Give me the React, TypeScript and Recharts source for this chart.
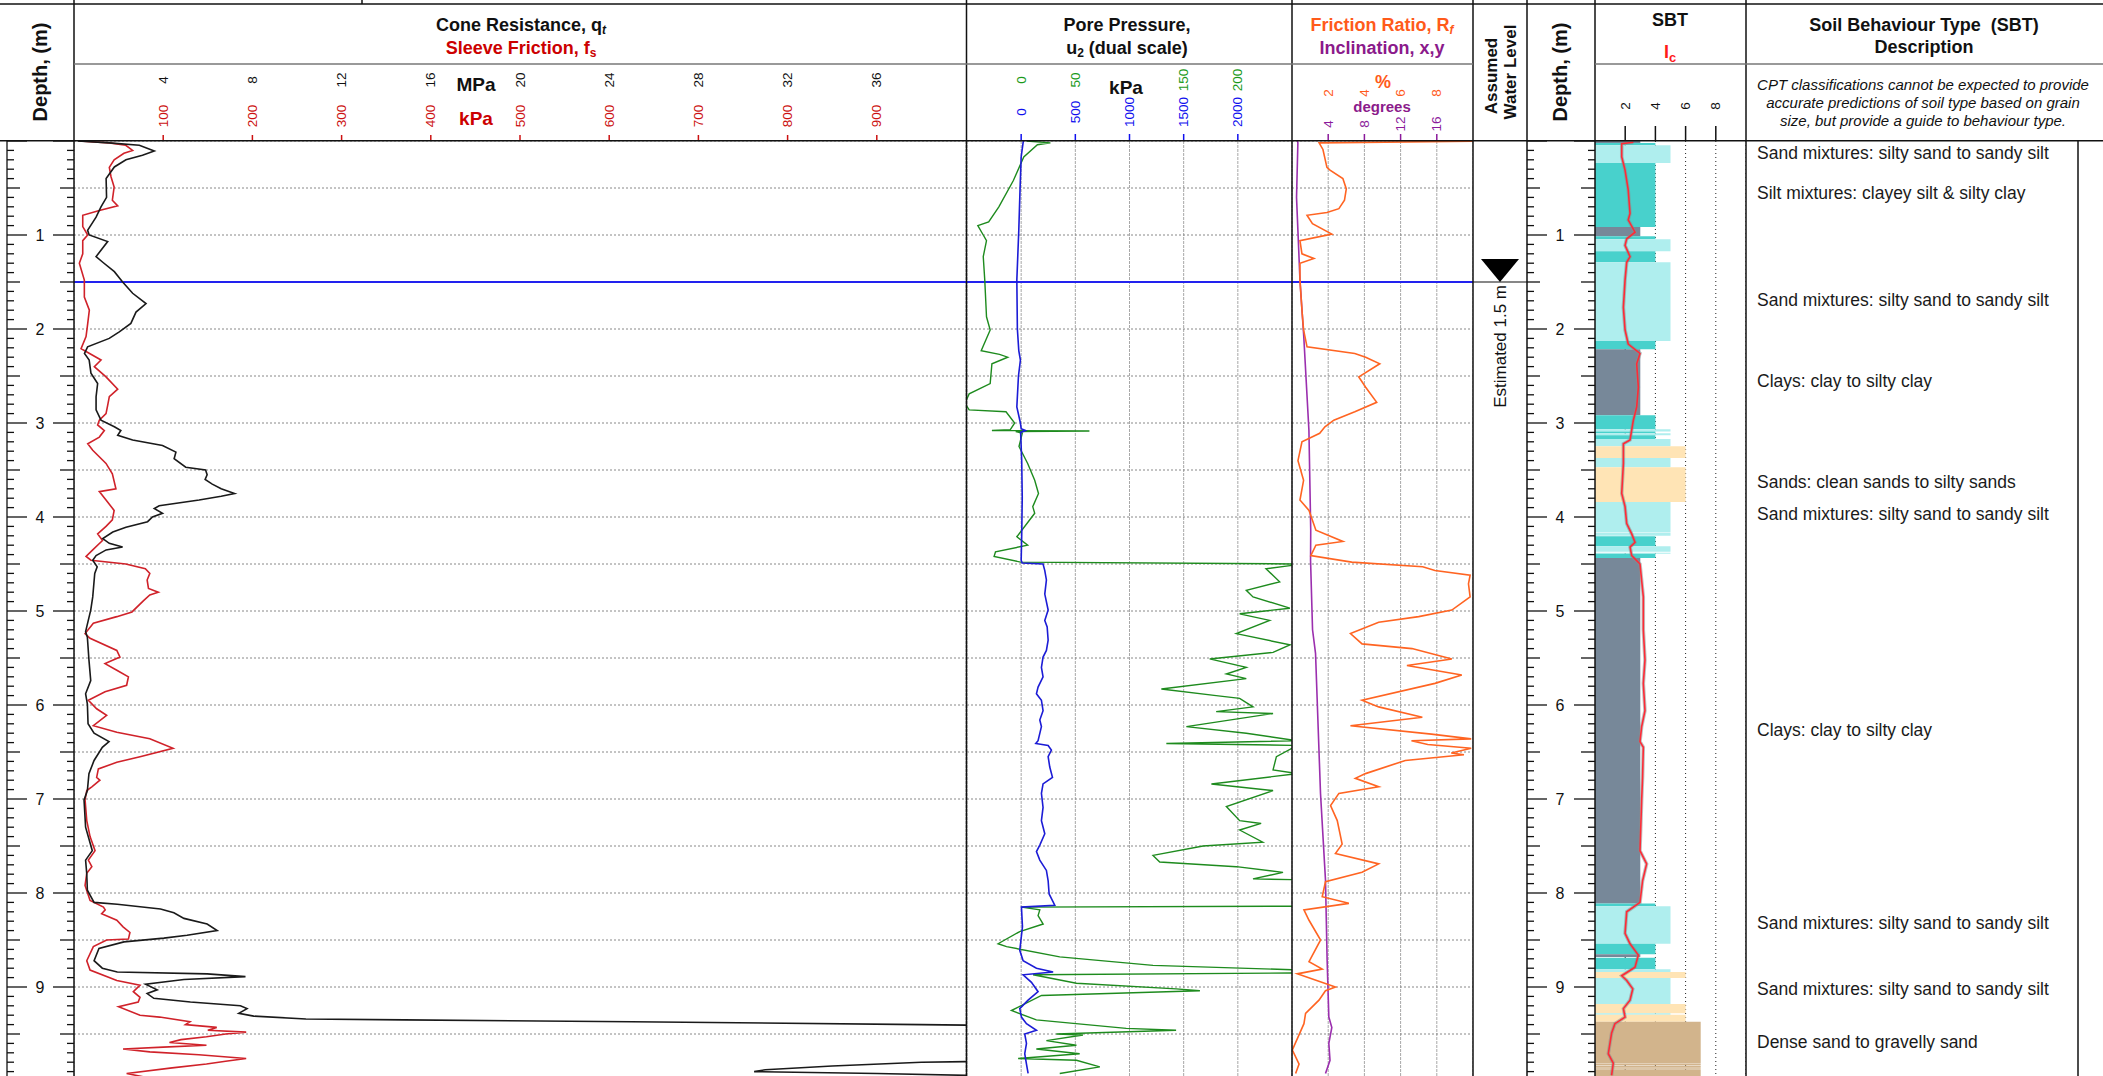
import React from "react";
import {
  ScatterChart, Scatter, XAxis, YAxis, CartesianGrid, ReferenceLine, ReferenceArea,
} from "recharts";

type Row = [number, number];

// cone resistance qt (MPa) by depth (m)
const QT_MPA: Row[] = [
  [0.0, 0.17], [0.02, 1.58], [0.046, 2.93], [0.106, 3.6], [0.152, 3.07], [0.2, 2.33], [0.276, 1.81],
  [0.4, 1.44], [0.6, 1.46], [0.7, 1.21], [0.81, 0.99], [0.95, 0.61], [1.0, 0.68], [1.07, 1.51],
  [1.23, 0.99], [1.29, 1.29], [1.39, 1.81], [1.5, 2.18], [1.62, 2.63], [1.73, 3.23], [1.82, 2.78],
  [1.94, 2.55], [2.03, 2.03], [2.1, 1.58], [2.19, 0.61], [2.26, 0.47], [2.33, 0.68], [2.47, 0.76],
  [2.58, 1.06], [2.72, 0.99], [2.86, 0.99], [2.97, 1.21], [3.04, 1.81], [3.08, 2.1], [3.13, 1.96],
  [3.18, 2.63], [3.24, 3.97], [3.31, 4.57], [3.38, 4.49], [3.47, 5.01], [3.5, 5.9], [3.55, 5.97],
  [3.6, 5.88], [3.65, 6.2], [3.7, 6.6], [3.75, 7.2], [3.78, 6.6], [3.82, 5.61], [3.88, 3.82],
  [3.91, 3.6], [3.96, 3.97], [4.0, 3.52], [4.05, 3.3], [4.11, 2.33], [4.16, 1.74], [4.23, 1.29],
  [4.28, 1.58], [4.32, 2.18], [4.35, 1.44], [4.41, 0.99], [4.46, 0.84], [4.53, 1.04], [4.6, 0.93],
  [4.85, 0.84], [4.99, 0.75], [5.22, 0.52], [5.28, 0.6], [5.52, 0.67], [5.74, 0.75], [5.88, 0.52],
  [5.99, 0.6], [6.2, 0.63], [6.3, 0.9], [6.39, 1.57], [6.45, 1.27], [6.59, 0.9], [6.73, 0.67],
  [6.91, 0.6], [7.01, 0.45], [7.3, 0.52], [7.55, 0.82], [7.65, 0.52], [7.79, 0.57], [7.97, 0.6],
  [8.1, 0.9], [8.12, 1.94], [8.17, 3.88], [8.21, 4.48], [8.27, 4.93], [8.33, 5.97], [8.4, 6.42],
  [8.45, 5.07], [8.48, 4.03], [8.52, 2.24], [8.59, 1.12], [8.72, 0.9], [8.8, 1.27], [8.84, 1.94],
  [8.86, 5.97], [8.89, 7.69], [8.92, 4.93], [8.97, 3.21], [9.03, 3.73], [9.07, 3.28], [9.12, 3.58],
  [9.16, 5.22], [9.2, 7.46], [9.23, 7.76], [9.28, 7.39], [9.31, 8.06], [9.34, 10.4], [9.35, 14.8],
  [9.37, 25], [9.4, 38], [9.42, 45], [9.6, 52], [9.78, 45], [9.8, 38], [9.84, 34], [9.88, 31],
  [9.9, 30.5], [9.92, 36], [9.95, 42],
];

// sleeve friction fs (kPa)
const FS_KPA: Row[] = [
  [0.0, 6], [0.02, 39.6], [0.046, 58], [0.1, 65.7], [0.13, 56], [0.2, 45], [0.28, 39.6], [0.38, 41.5],
  [0.49, 45], [0.63, 43], [0.69, 49], [0.74, 28.4], [0.79, 9.8], [0.91, 9.8], [1.0, 15.4], [1.06, 9.8],
  [1.2, 9.8], [1.3, 6], [1.48, 11.6], [1.66, 11.6], [1.8, 17.2], [1.94, 15.4], [2.08, 13.5], [2.21, 7.9],
  [2.24, 13.5], [2.33, 30.3], [2.4, 22.8], [2.51, 35.9], [2.64, 49], [2.72, 39.6], [2.81, 37.8],
  [2.9, 35.9], [2.97, 28.4], [3.02, 26.5], [3.08, 34], [3.15, 28.4], [3.22, 15.4], [3.29, 21],
  [3.43, 35.9], [3.54, 43], [3.7, 47], [3.73, 28.4], [3.82, 35.9], [3.93, 45], [4.03, 43], [4.1, 35.9],
  [4.18, 26.5], [4.25, 32], [4.35, 21], [4.42, 13.5], [4.46, 19], [4.5, 58], [4.55, 80], [4.6, 85],
  [4.67, 82], [4.76, 83.5], [4.8, 94.5], [4.83, 85], [4.89, 78], [5.01, 65], [5.06, 48], [5.13, 21.7],
  [5.24, 12.4], [5.29, 18], [5.42, 48], [5.49, 51.5], [5.56, 34.8], [5.63, 48], [5.7, 61], [5.79, 59],
  [5.86, 34.8], [5.95, 16.1], [6.04, 25.4], [6.11, 36.6], [6.22, 21.7], [6.29, 48], [6.36, 85],
  [6.46, 111], [6.55, 74], [6.61, 48], [6.68, 27.3], [6.77, 25.4], [6.8, 29], [6.87, 20], [6.91, 14.3],
  [7.01, 12.4], [7.23, 14.3], [7.4, 18], [7.55, 23.6], [7.65, 16.1], [7.72, 20], [7.79, 14.3],
  [7.92, 12.4], [8.08, 18], [8.15, 33], [8.18, 35], [8.22, 31], [8.29, 48], [8.36, 55], [8.42, 62.7],
  [8.49, 61], [8.5, 36.6], [8.57, 21.7], [8.72, 14.3], [8.82, 18], [8.93, 48], [8.98, 74], [9.05, 66.5],
  [9.11, 74], [9.16, 72], [9.21, 50], [9.3, 74], [9.32, 96], [9.37, 130], [9.4, 125], [9.43, 160],
  [9.46, 150], [9.48, 193], [9.5, 170], [9.53, 148.5], [9.56, 120], [9.59, 107], [9.62, 148.5],
  [9.64, 100], [9.66, 55], [9.69, 85], [9.72, 140], [9.76, 193], [9.79, 170], [9.82, 148.5],
  [9.86, 110], [9.92, 59], [9.96, 80],
];

// pore pressure u2 (kPa), wide scale (blue)
const U2_KPA: Row[] = [
  [0.0, 20], [0.17, 0], [0.5, -10], [0.95, -22], [1.48, -40], [2.0, -35], [2.23, -22], [2.33, -7],
  [2.5, -25], [2.83, -40], [3.0, -7], [3.06, 0], [3.08, 40], [3.1, -5], [3.4, 5], [3.79, 10], [4.2, 5],
  [4.46, 0], [4.49, 10], [4.5, 202], [4.57, 218], [4.67, 233], [4.82, 218], [4.99, 249], [5.1, 218],
  [5.17, 240], [5.31, 249], [5.42, 233], [5.49, 202], [5.6, 187], [5.7, 202], [5.81, 156], [5.88, 141],
  [5.95, 187], [6.06, 202], [6.16, 172], [6.23, 187], [6.38, 156], [6.41, 135], [6.43, 249], [6.48, 279],
  [6.55, 249], [6.66, 264], [6.77, 289], [6.84, 202], [6.94, 187], [7.09, 202], [7.23, 187], [7.37, 218],
  [7.49, 172], [7.56, 141], [7.65, 172], [7.76, 233], [7.87, 249], [8.01, 258], [8.13, 310], [8.15, 2.5],
  [8.36, 12], [8.61, -13], [8.72, 18], [8.8, 141], [8.84, 295], [8.87, 18], [8.95, 95], [9.05, 156],
  [9.14, 64], [9.23, -13], [9.32, 2.5], [9.39, 49], [9.46, 141], [9.5, 33], [9.6, 49], [9.71, 33],
  [9.82, 49], [9.92, 64],
];

// pore pressure u2 (kPa), zoomed scale (green)
const U2_ZOOM_KPA: Row[] = [
  [0.0, 5], [0.02, 27], [0.04, 15], [0.17, 2.4], [0.42, -7.2], [0.7, -20.6], [0.86, -30], [0.9, -40],
  [1.0, -35], [1.06, -32], [1.23, -35], [1.48, -33.6], [1.87, -32], [2.01, -28.6], [2.23, -36.9],
  [2.27, -20], [2.3, -12.4], [2.37, -27], [2.58, -28.6], [2.69, -48], [2.79, -52], [2.86, -48],
  [2.88, -14], [3.0, -6], [3.07, -10], [3.08, -27], [3.085, 63], [3.09, -5], [3.11, 1], [3.25, -2],
  [3.43, 6], [3.61, 12.5], [3.75, 16], [3.89, 10.7], [3.96, 12.5], [4.21, -4], [4.3, 6], [4.37, -23.7],
  [4.42, -25], [4.48, -0.6], [4.5, 260], [4.55, 226], [4.69, 238.6], [4.78, 207.8], [4.85, 214],
  [4.97, 248], [5.03, 201.7], [5.1, 229.4], [5.24, 198.6], [5.36, 248], [5.44, 232.5], [5.51, 174],
  [5.6, 207.8], [5.67, 189.4], [5.72, 207.8], [5.83, 129.4], [5.9, 180], [5.93, 201.7], [6.02, 214],
  [6.07, 180], [6.09, 232.5], [6.23, 152.5], [6.3, 207.8], [6.38, 255], [6.41, 134], [6.43, 255],
  [6.55, 235.6], [6.69, 232.5], [6.73, 255], [6.84, 175.6], [6.91, 232.5], [7.08, 189.4], [7.23, 201.7],
  [7.26, 221.5], [7.33, 201.7], [7.46, 223], [7.5, 167.9], [7.6, 121.7], [7.67, 127.9], [7.72, 198.6],
  [7.78, 241.7], [7.85, 214], [7.86, 260], [8.14, 260], [8.15, 0.3], [8.18, 17.2], [8.24, 15.6],
  [8.33, 20.3], [8.41, -1.3], [8.54, -21.3], [8.57, -13.5], [8.68, 35.6], [8.77, 121.7], [8.82, 260],
  [8.85, 260], [8.87, 11], [8.96, 51], [9.02, 143], [9.04, 165], [9.09, 18.8], [9.25, -9], [9.35, 14],
  [9.44, 97], [9.46, 143], [9.5, 32.5], [9.51, 57], [9.57, 23.3], [9.62, 51], [9.66, 14], [9.71, 54],
  [9.76, -2.8], [9.78, 51], [9.85, 72.6], [9.92, 35.6],
];

// friction ratio Rf (%)
const RF_PCT: Row[] = [
  [0.0, 11], [0.02, 1.5], [0.03, 1.53], [0.09, 1.71], [0.28, 1.93], [0.31, 2.1], [0.4, 2.81], [0.51, 3.0],
  [0.63, 2.9], [0.72, 2.59], [0.76, 1.93], [0.79, 0.83], [0.88, 1.13], [0.99, 2.2], [1.06, 0.44],
  [1.2, 0.55], [1.25, 1.21], [1.3, 0.44], [1.48, 0.44], [1.8, 0.55], [2.01, 0.64], [2.19, 0.83],
  [2.26, 3.47], [2.3, 4.07], [2.37, 4.85], [2.51, 3.69], [2.62, 4.07], [2.78, 4.68], [2.88, 3.47],
  [2.97, 2.31], [3.04, 1.82], [3.11, 1.53], [3.2, 0.55], [3.4, 0.33], [3.61, 0.64], [3.82, 0.44],
  [3.93, 0.94], [4.14, 1.32], [4.26, 2.81], [4.3, 1.32], [4.41, 1.04], [4.48, 3.3], [4.53, 7.22],
  [4.57, 7.9], [4.62, 9.84], [4.71, 9.75], [4.85, 9.84], [4.99, 8.83], [5.06, 7.0], [5.12, 4.79],
  [5.24, 3.23], [5.35, 3.87], [5.4, 6.63], [5.51, 8.83], [5.58, 6.35], [5.68, 9.38], [5.77, 7.9],
  [5.95, 3.87], [6.02, 4.79], [6.13, 7.2], [6.22, 3.23], [6.31, 7.7], [6.36, 9.9], [6.38, 6.6],
  [6.42, 7.5], [6.46, 9.9], [6.51, 8.8], [6.53, 9.5], [6.59, 6.26], [6.73, 4.06], [6.78, 3.5],
  [6.87, 4.79], [6.94, 2.59], [7.07, 2.13], [7.23, 2.5], [7.48, 2.77], [7.58, 2.4], [7.69, 4.79],
  [7.78, 3.87], [7.88, 1.85], [8.04, 1.67], [8.11, 3.14], [8.18, 0.66], [8.29, 0.94], [8.5, 1.58],
  [8.73, 0.94], [8.81, 1.67], [8.86, 0.29], [9.0, 2.4], [9.04, 1.85], [9.14, 1.49], [9.28, 0.75],
  [9.39, 0.66], [9.67, 0.02], [9.82, 0.39], [9.92, 0.2],
];

// inclination (degrees)
const INCL_DEG: Row[] = [
  [0.0, 0.6], [0.02, 0.65], [0.6, 0.5], [1.48, 0.88], [2.08, 1.3], [3.08, 1.87], [4.14, 2.07],
  [4.46, 2.05], [5.2, 2.27], [5.45, 2.6], [6.94, 3.15], [7.86, 3.7], [8.71, 3.88], [9.32, 4.07],
  [9.43, 4.4], [9.6, 4.07], [9.78, 4.2], [9.92, 3.7],
];

// soil behaviour type index Ic
const IC_INDEX: Row[] = [
  [0.014, 2.54], [0.03, 1.77], [0.17, 1.77], [0.31, 1.99], [0.52, 2.2], [0.77, 2.32], [0.84, 2.2],
  [0.97, 2.65], [1.04, 2.1], [1.11, 1.99], [1.23, 2.32], [1.29, 2.1], [1.48, 1.99], [1.77, 1.88],
  [2.01, 1.99], [2.16, 2.2], [2.26, 2.98], [2.37, 2.76], [2.62, 2.87], [2.83, 2.76], [2.97, 2.54],
  [3.18, 2.32], [3.22, 1.88], [3.43, 1.88], [3.75, 1.77], [3.89, 1.99], [4.07, 2.1], [4.18, 2.43],
  [4.27, 2.65], [4.32, 2.32], [4.41, 2.43], [4.5, 2.98], [4.85, 3.2], [5.2, 3.2], [5.52, 3.31],
  [5.77, 3.2], [6.06, 3.31], [6.23, 3.09], [6.39, 2.98], [6.45, 3.2], [6.77, 3.15], [7.01, 3.09],
  [7.55, 2.98], [7.69, 3.42], [7.87, 3.15], [8.1, 2.98], [8.2, 2.1], [8.43, 1.99], [8.54, 2.32],
  [8.66, 2.87], [8.79, 2.65], [8.88, 1.77], [8.93, 2.1], [9.02, 2.5], [9.14, 2.32], [9.23, 1.88],
  [9.32, 1.99], [9.39, 1.32], [9.49, 1.1], [9.71, 0.88], [9.81, 1.21], [9.94, 1.1],
];

// SBT layers: top (m), bottom (m), zone
const SBT_LAYERS: [number, number, number][] = [
  [0.0, 0.02, 3], [0.02, 0.046, 4], [0.046, 0.234, 5], [0.234, 0.915, 4], [0.915, 1.014, 3],
  [1.014, 1.045, 4], [1.045, 1.173, 5], [1.173, 1.29, 4], [1.29, 2.128, 5], [2.128, 2.216, 4],
  [2.216, 2.918, 3], [2.918, 3.067, 4], [3.067, 3.09, 5], [3.09, 3.11, 4], [3.11, 3.13, 5],
  [3.13, 3.17, 4], [3.17, 3.248, 5], [3.248, 3.372, 6], [3.372, 3.47, 5], [3.47, 3.84, 6],
  [3.84, 4.16, 5], [4.165, 4.2, 5], [4.205, 4.31, 4], [4.31, 4.37, 5], [4.38, 4.39, 5],
  [4.39, 4.435, 4], [4.435, 8.113, 3], [8.113, 8.14, 4], [8.14, 8.54, 5], [8.54, 8.652, 4],
  [8.652, 8.68, 3], [8.69, 8.81, 4], [8.81, 8.84, 5], [8.84, 8.904, 6], [8.904, 9.18, 5],
  [9.18, 9.28, 6], [9.28, 9.295, 5], [9.295, 9.37, 6], [9.37, 9.81, 7], [9.815, 9.83, 7],
  [9.835, 9.85, 7], [9.855, 9.87, 7], [9.875, 10, 7],
];

const SBT_DESC: [number, string][] = [
  [0.127, "Sand mixtures: silty sand to sandy silt"],
  [0.556, "Silt mixtures: clayey silt & silty clay"],
  [1.694, "Sand mixtures: silty sand to sandy silt"],
  [2.556, "Clays: clay to silty clay"],
  [3.63, "Sands: clean sands to silty sands"],
  [3.97, "Sand mixtures: silty sand to sandy silt"],
  [6.27, "Clays: clay to silty clay"],
  [8.32, "Sand mixtures: silty sand to sandy silt"],
  [9.02, "Sand mixtures: silty sand to sandy silt"],
  [9.59, "Dense sand to gravelly sand"],
];

const WATER_DEPTH = 1.5;
const WATER_LABEL = "Estimated 1.5 m";

const QT_TICKS = [4, 8, 12, 16, 20, 24, 28, 32, 36];
const QT_GRID = [2, 4, 6, 8, 10, 12, 14, 16, 18, 20, 22, 24, 26, 28, 30, 32, 34, 36, 38];
const FS_TICKS = [100, 200, 300, 400, 500, 600, 700, 800, 900];
const U2_TICKS = [0, 500, 1000, 1500, 2000];
const U2_ZOOM_TICKS = [0, 50, 150, 200];
const RF_TICKS = [2, 4, 6, 8];
const INCL_TICKS = [4, 8, 12, 16];
const IC_TICKS = [2, 4, 6, 8];
const DEPTH_GRID = [0.5, 1, 1.5, 2, 2.5, 3, 3.5, 4, 4.5, 5, 5.5, 6, 6.5, 7, 7.5, 8, 8.5, 9, 9.5];
const DEPTH_TICKS = Array.from({ length: 101 }, (_, i) => i / 10);

const ZONE_FILL: Record<number, string> = {
  3: "#778899", 4: "#48d1cc", 5: "#afeeee", 6: "#ffe4b5", 7: "#d2b48c",
};

const FONT = "'Liberation Sans', Arial, sans-serif";
const HEAD_TOP = 64;
const PLOT_TOP = 141;
const PLOT_H = 940;
const AXIS_H = PLOT_TOP - HEAD_TOP;
const CHART_H = AXIS_H + PLOT_H;

const BLACK = "#1a1a1a";
const RED = "#d0222a";
const BLUE = "#1c1cd6";
const GREEN = "#1e8b1e";
const ORANGE = "#ff6422";
const PURPLE = "#9b2fae";

const pts = (rows: Row[]) => rows.map(([d, v]) => ({ d, v }));
const NoDot = () => <g />;

function rotTick(yc: number, color: string, tickLen = 0) {
  return (props: any) => {
    const { x, payload } = props;
    return (
      <g>
        <text x={x} y={yc} transform={`rotate(-90 ${x} ${yc})`} textAnchor="middle"
          dominantBaseline="central" fill={color} fontSize={13.5} fontFamily={FONT}>
          {payload.value}
        </text>
        {tickLen > 0 && (
          <line x1={x} x2={x} y1={AXIS_H - tickLen} y2={AXIS_H} stroke={color} strokeWidth={1.5} />
        )}
      </g>
    );
  };
}

function depthTick(xL: number, xR: number, xLabel: number) {
  return (props: any) => {
    const { y, payload } = props;
    const tenth = Math.round(payload.value * 10);
    const major = tenth % 10 === 0;
    const half = tenth % 5 === 0;
    const lenL = major ? 20 : half ? 13 : 7;
    const lenR = major ? 21 : half ? 14 : 7;
    return (
      <g>
        <line x1={xL} x2={xL + lenL} y1={y} y2={y} stroke="#111" strokeWidth={1.3} />
        <line x1={xR - lenR} x2={xR} y1={y} y2={y} stroke="#111" strokeWidth={1.3} />
        {major && tenth > 0 && tenth < 100 && (
          <text x={xLabel} y={y} textAnchor="middle" dominantBaseline="central"
            fontSize={16} fontFamily={FONT} fill="#111">{tenth / 10}</text>
        )}
      </g>
    );
  };
}

function Panel({ left, width, top = 0, children }: any) {
  return (
    <div style={{ position: "absolute", left, top: HEAD_TOP }}>
      <ScatterChart width={width} height={CHART_H} margin={{ top, right: 0, bottom: 0, left: 0 }}>
        {children}
      </ScatterChart>
    </div>
  );
}

const depthAxis = (
  <YAxis type="number" dataKey="d" domain={[0, 10]} reversed hide allowDataOverflow ticks={DEPTH_GRID} />
);

const vGrid = { horizontal: false, stroke: "#a8a8a8", strokeDasharray: "3 1" };
const hGrid = { vertical: false, stroke: "#888", strokeDasharray: "2 2" };

function Curve({ rows, color, width = 1.6, axis }: any) {
  return (
    <Scatter xAxisId={axis} data={pts(rows)} fill={color} shape={NoDot}
      line={{ stroke: color, strokeWidth: width }} isAnimationActive={false} />
  );
}

function DepthColumn({ left, width }: { left: number; width: number }) {
  return (
    <Panel left={left} width={width + 1} top={AXIS_H}>
      <XAxis type="number" dataKey="v" domain={[0, 1]} hide />
      <YAxis type="number" dataKey="d" domain={[0, 10]} reversed width={width} ticks={DEPTH_TICKS}
        interval={0} axisLine={false} tickLine={false} tick={depthTick(left === 0 ? 7 : 0, width, left === 0 ? 40 : 33)} />
      <Scatter data={[{ v: 0, d: 0 }]} shape={NoDot} isAnimationActive={false} />
    </Panel>
  );
}

export default function App() {
  return (
    <div style={{ position: "absolute", left: 0, top: 0, width: 2103, height: 1076, overflow: "hidden", background: "#fff", fontFamily: FONT }}>
      <DepthColumn left={0} width={74} />

      {/* cone resistance + sleeve friction */}
      <Panel left={74} width={892}>
        <XAxis type="number" dataKey="v" orientation="top" domain={[0, 40]} ticks={QT_TICKS} interval={0}
          height={39} axisLine={false} tickLine={false} tick={rotTick(80 - HEAD_TOP, "#111")} allowDataOverflow />
        <XAxis xAxisId="fs" type="number" dataKey="v" orientation="top" domain={[0, 1000]} ticks={FS_TICKS}
          interval={0} height={38} axisLine={false} tickLine={false} tick={rotTick(116 - HEAD_TOP, "#cc1111", 6)} allowDataOverflow />
        <XAxis xAxisId="grid" type="number" dataKey="v" domain={[0, 40]} ticks={QT_GRID} hide />
        {depthAxis}
        <CartesianGrid xAxisId="grid" {...vGrid} />
        <CartesianGrid xAxisId="grid" {...hGrid} />
        <ReferenceLine y={WATER_DEPTH} stroke="#2222ee" strokeWidth={2} />
        <Curve rows={FS_KPA} color={RED} axis="fs" />
        <Curve rows={QT_MPA} color={BLACK} axis={0} />
      </Panel>

      {/* pore pressure, dual scale */}
      <Panel left={967} width={325}>
        <XAxis type="number" dataKey="v" orientation="top" domain={[-500, 2500]} ticks={U2_TICKS} interval={0}
          height={38} axisLine={false} tickLine={false} tick={rotTick(112 - HEAD_TOP, "#1010ee", 7)} allowDataOverflow />
        <XAxis xAxisId="g" type="number" dataKey="v" orientation="top" domain={[-50, 250]} ticks={U2_ZOOM_TICKS}
          interval={0} height={39} axisLine={false} tickLine={false} tick={rotTick(80 - HEAD_TOP, "#1a9a1a")} allowDataOverflow />
        {depthAxis}
        <CartesianGrid {...vGrid} />
        <CartesianGrid {...hGrid} />
        <ReferenceLine y={WATER_DEPTH} stroke="#2222ee" strokeWidth={2} />
        <Curve rows={U2_ZOOM_KPA} color={GREEN} width={1.4} axis="g" />
        <Curve rows={U2_KPA} color={BLUE} axis={0} />
      </Panel>

      {/* friction ratio + inclination */}
      <Panel left={1292} width={181}>
        <XAxis type="number" dataKey="v" orientation="top" domain={[0, 10]} ticks={RF_TICKS} interval={0}
          height={39} axisLine={false} tickLine={false} tick={rotTick(93 - HEAD_TOP, "#ff5a1a")} allowDataOverflow />
        <XAxis xAxisId="inc" type="number" dataKey="v" orientation="top" domain={[0, 20]} ticks={INCL_TICKS}
          interval={0} height={38} axisLine={false} tickLine={false} tick={rotTick(124 - HEAD_TOP, "#8b1a9b", 7)} allowDataOverflow />
        {depthAxis}
        <CartesianGrid {...vGrid} />
        <CartesianGrid {...hGrid} />
        <ReferenceLine y={WATER_DEPTH} stroke="#2222ee" strokeWidth={2} />
        <Curve rows={INCL_DEG} color={PURPLE} axis="inc" />
        <Curve rows={RF_PCT} color={ORANGE} axis={0} />
      </Panel>

      {/* assumed water level */}
      <Panel left={1473} width={54} top={AXIS_H}>
        <XAxis type="number" dataKey="v" domain={[0, 1]} hide />
        {depthAxis}
        <ReferenceLine y={WATER_DEPTH} stroke="#111" strokeWidth={1.2} />
        <Scatter data={[{ v: 0.5, d: WATER_DEPTH }]} isAnimationActive={false}
          shape={(p: any) => (
            <g>
              <polygon points={`${p.cx - 19},${p.cy - 23} ${p.cx + 19},${p.cy - 23} ${p.cx},${p.cy}`} fill="#000" />
              <text x={p.cx} y={p.cy + 3} transform={`rotate(-90 ${p.cx} ${p.cy + 3})`} textAnchor="end"
                dominantBaseline="central" fontSize={17} fontFamily={FONT} fill="#111">{WATER_LABEL}</text>
            </g>
          )} />
      </Panel>

      <DepthColumn left={1527} width={68} />

      {/* SBT column */}
      <Panel left={1595} width={151}>
        <XAxis type="number" dataKey="v" orientation="top" domain={[0, 10]} ticks={IC_TICKS} interval={0}
          height={AXIS_H} axisLine={false} tickLine={false} tick={rotTick(106 - HEAD_TOP, "#111", 15)} allowDataOverflow />
        {depthAxis}
        {SBT_LAYERS.map(([top, bottom, zone], i) => (
          <ReferenceArea key={i} x1={0} x2={zone} y1={top} y2={bottom} fill={ZONE_FILL[zone]}
            fillOpacity={1} stroke="none" ifOverflow="visible" />
        ))}
        <CartesianGrid horizontal={false} stroke="#222" strokeDasharray="1 3" />
        <Curve rows={IC_INDEX} color="rgba(140,140,140,0.55)" width={3.5} axis={0} />
        <Curve rows={IC_INDEX} color="#ff2a36" width={1.6} axis={0} />
      </Panel>

      {/* SBT description */}
      <Panel left={1746} width={332} top={AXIS_H}>
        <XAxis type="number" dataKey="v" domain={[0, 1]} hide />
        {depthAxis}
        <Scatter data={SBT_DESC.map(([d, text]) => ({ v: 0, d, text }))} isAnimationActive={false}
          shape={(p: any) => (
            <text x={p.cx + 11} y={p.cy} dominantBaseline="central" fontSize={17.5} fontFamily={FONT} fill="#1a1a1a">
              {p.payload.text}
            </text>
          )} />
      </Panel>

      {/* frame and headers */}
      <svg width={2103} height={1076} style={{ position: "absolute", left: 0, top: 0, pointerEvents: "none" }}
        fontFamily={FONT}>
        <g stroke="#111" strokeWidth={1.5}>
          <line x1={0} x2={2103} y1={4} y2={4} />
          <line x1={0} x2={2103} y1={140.7} y2={140.7} />
          <line x1={362} x2={362} y1={0} y2={4} />
          <line x1={7} x2={7} y1={140.7} y2={1076} strokeWidth={1.3} />
          {[74, 966.5, 1292, 1473, 1527, 1595, 1746].map((x) => (
            <line key={x} x1={x} x2={x} y1={0} y2={1076} />
          ))}
          <line x1={2078} x2={2078} y1={140.7} y2={1076} />
        </g>
        <g stroke="#777" strokeWidth={1.5}>
          <line x1={74} x2={1473} y1={64} y2={64} />
          <line x1={1595} x2={2103} y1={64} y2={64} />
        </g>

        <g fontWeight="bold" fontSize={18} textAnchor="middle" dominantBaseline="central">
          <text x={40} y={72} fontSize={20} transform="rotate(-90 40 72)" fill="#111">Depth, (m)</text>
          <text x={1560} y={72} fontSize={20} transform="rotate(-90 1560 72)" fill="#111">Depth, (m)</text>
          <text x={1491} y={76} fontSize={17} transform="rotate(-90 1491 76)" fill="#111">Assumed</text>
          <text x={1510} y={72} fontSize={17} transform="rotate(-90 1510 72)" fill="#111">Water Level</text>

          <text x={521} y={25} fill="#111">Cone Resistance, q<tspan fontStyle="italic" fontSize={12} dy={5}>t</tspan></text>
          <text x={521} y={48} fill="#cc0000">Sleeve Friction, f<tspan fontSize={12} dy={5}>s</tspan></text>
          <text x={476} y={84} fontSize={19} fill="#111">MPa</text>
          <text x={476} y={118} fontSize={19} fill="#cc0000">kPa</text>

          <text x={1127} y={25} fill="#111">Pore Pressure,</text>
          <text x={1127} y={48} fill="#111">u<tspan fontSize={12} dy={5}>2</tspan><tspan dy={-5}> (dual scale)</tspan></text>
          <text x={1126} y={87} fontSize={19} fill="#111">kPa</text>

          <text x={1382} y={25} fill="#ff5a1a">Friction Ratio, R<tspan fontStyle="italic" fontSize={12} dy={5}>f</tspan></text>
          <text x={1382} y={48} fill="#8b1a8b">Inclination, x,y</text>
          <text x={1383} y={82} fontSize={18} fill="#ff5a1a">%</text>
          <text x={1382} y={106} fontSize={15} fill="#8b1a8b">degrees</text>

          <text x={1670} y={20} fill="#111">SBT</text>
          <text x={1670} y={52} fill="#ff1a1a">I<tspan fontSize={13} dy={5}>c</tspan></text>

          <text x={1924} y={25} fill="#111">Soil Behaviour Type{"\u00a0 "}(SBT)</text>
          <text x={1924} y={47} fill="#111">Description</text>
        </g>
        <g fontStyle="italic" fontSize={15} textAnchor="middle" dominantBaseline="central" fill="#111">
          <text x={1923} y={84}>CPT classifications cannot be expected to provide</text>
          <text x={1923} y={102}>accurate predictions of soil type based on grain</text>
          <text x={1923} y={120}>size, but provide a guide to behaviour type.</text>
        </g>
      </svg>
    </div>
  );
}
